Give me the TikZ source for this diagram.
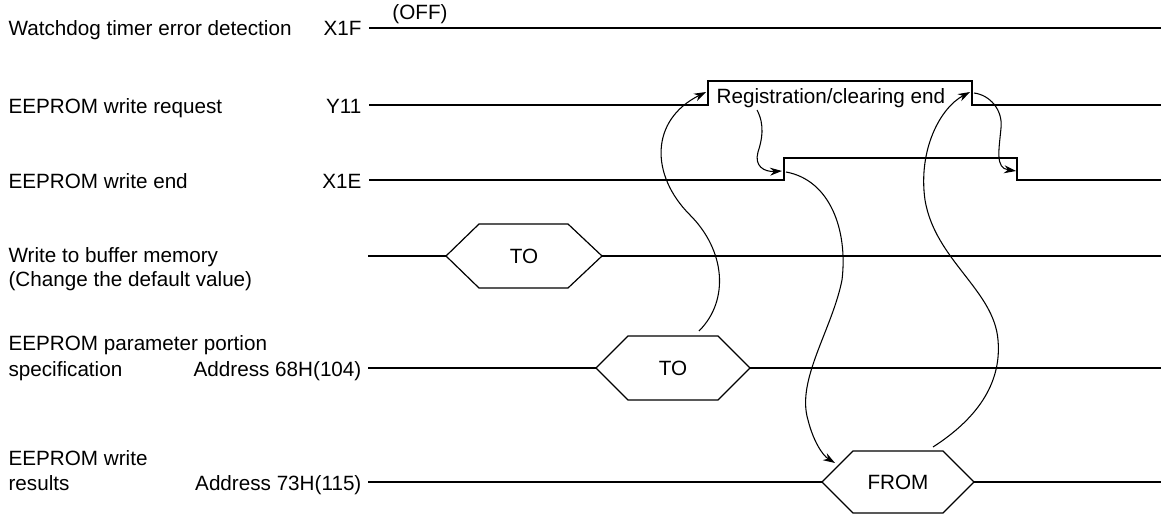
\documentclass[tikz,border=0pt]{standalone}
\usepackage{fontspec}
\setmainfont{Liberation Sans}
\usetikzlibrary{arrows.meta}

\begin{document}
\begin{tikzpicture}[x=0.75pt, y=-0.75pt, line width=0.9pt,
  every node/.style={font=\fontsize{15.5}{18}\selectfont, inner sep=0pt},
  lbl/.style={anchor=base west},
  sig/.style={anchor=base east},
  val/.style={anchor=base},
  flow/.style={line width=0.8pt, -{Stealth[length=9pt,width=6pt]}}]
  \useasboundingbox (0,0) rectangle (1165,514);
  % signal names on the left
  \node[lbl] (wdt) at (8,36) {Watchdog timer error detection};
  \node[sig] (x1f) at (362,36) {X1F};
  \node[lbl] (wrq) at (8,113) {EEPROM write request};
  \node[sig] (y11) at (362,113) {Y11};
  \node[lbl] (wen) at (8,188) {EEPROM write end};
  \node[sig] (x1e) at (362,188) {X1E};
  \node[lbl] (buf) at (8,262) {Write to buffer memory};
  \node[lbl] (bufb) at (8,286) {(Change the default value)};
  \node[lbl] (par) at (8,350) {EEPROM parameter portion};
  \node[lbl] (parb) at (8,376) {specification};
  \node[sig] (a68) at (362,376) {Address 68H(104)};
  \node[lbl] (res) at (8,465) {EEPROM write};
  \node[lbl] (resb) at (8,490) {results};
  \node[sig] (a73) at (362,490) {Address 73H(115)};
  % X1F stays off
  \draw (369,28) -- (1161,28);
  \node[val] (off) at (420,20) {(OFF)};
  % Y11 and X1E pulses
  \draw (369,105) -- (708,105) -- (708,81) -- (972,81) -- (972,105) -- (1161,105);
  \draw (369,180) -- (784,180) -- (784,158) -- (1017,158) -- (1017,180) -- (1161,180);
  \node[lbl] (regend) at (716,103) {Registration/clearing end};
  % buffer memory write
  \draw (368,256) -- (446,256);
  \draw (446,256) -- (479,224) -- (568,224) -- (602,256) -- (568,288) -- (479,288) -- cycle;
  \draw (602,256) -- (1161,256);
  \node[val] (to1) at (524,263) {TO};
  % address 68H
  \draw (368,368) -- (596,368);
  \draw (596,368) -- (628,336) -- (718,336) -- (750,368) -- (718,400) -- (628,400) -- cycle;
  \draw (750,368) -- (1161,368);
  \node[val] (to2) at (673,375) {TO};
  % address 73H
  \draw (368,482) -- (822,482);
  \draw (822,482) -- (853,451) -- (943,451) -- (974,482) -- (943,513) -- (853,513) -- cycle;
  \draw (974,482) -- (1161,482);
  \node[val] (from) at (898,489) {FROM};
  % ends of the curved arrows
  \coordinate (to2top) at (699,331);
  \coordinate (reqon) at (706,92);
  \coordinate (regtxt) at (757,110);
  \coordinate (endon) at (782,171);
  \coordinate (endrise) at (786,172);
  \coordinate (fromin) at (835,463);
  \coordinate (fromtop) at (933,447);
  \coordinate (reqoff) at (970,92);
  \coordinate (reqfall) at (974,93);
  \coordinate (endoff) at (1016,171);
  % curved arrows
  \draw[flow] (to2top) .. controls (730,300) and (725,250) .. (690,215)
    .. controls (650,175) and (650,120) .. (reqon);
  \draw[flow] (regtxt) .. controls (765,125) and (762,140) .. (758,152)
    .. controls (754,166) and (764,172) .. (endon);
  \draw[flow] (endrise) .. controls (830,180) and (848,230) .. (842,280)
    .. controls (832,330) and (796,380) .. (808,420)
    .. controls (813,440) and (822,455) .. (fromin);
  \draw[flow] (fromtop) .. controls (975,420) and (1002,385) .. (998,340)
    .. controls (994,290) and (935,260) .. (925,200)
    .. controls (918,150) and (940,108) .. (reqoff);
  \draw[flow] (reqfall) .. controls (990,95) and (1003,110) .. (1001,128)
    .. controls (999,150) and (995,168) .. (endoff);
\end{tikzpicture}
\end{document}
